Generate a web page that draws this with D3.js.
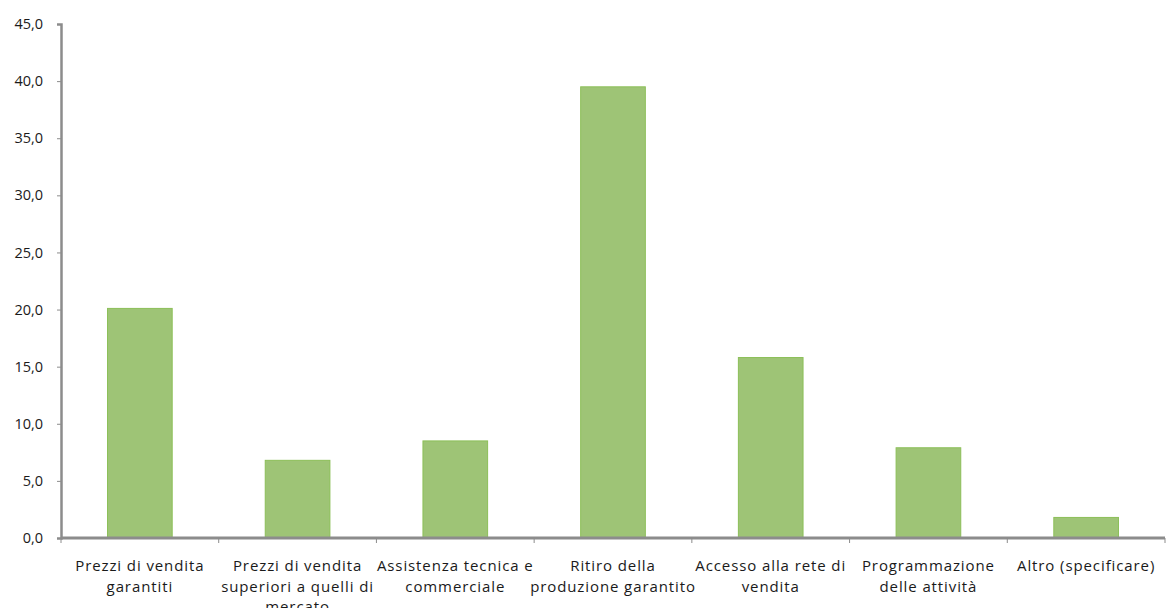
<!DOCTYPE html>
<html><head><meta charset="utf-8">
<script src="https://cdn.jsdelivr.net/npm/d3@7"></script>
<style>body{margin:0;background:#fff;} text{font-family:"Open Sans", Roboto, sans-serif;}</style>
</head><body><svg id="c" width="1168" height="608"></svg>
<script>
const categories = ["Prezzi di vendita garantiti","Prezzi di vendita superiori a quelli di mercato","Assistenza tecnica e commerciale","Ritiro della produzione garantito","Accesso alla rete di vendita","Programmazione delle attività","Altro (specificare)"];
const categoryLines = [["Prezzi di vendita","garantiti"],["Prezzi di vendita","superiori a quelli di","mercato"],["Assistenza tecnica e","commerciale"],["Ritiro della","produzione garantito"],["Accesso alla rete di","vendita"],["Programmazione","delle attività"],["Altro (specificare)"]];
const values = [20.1, 6.8, 8.5, 39.5, 15.8, 7.9, 1.8];
const yTicks = [0,5,10,15,20,25,30,35,40,45];

const svg = d3.select("#c");
const x0 = 61, x1 = 1165, yTop = 24, yBot = 538;
const x = d3.scaleBand().domain(categories).range([x0, x1]).paddingInner(0).paddingOuter(0);
const y = d3.scaleLinear().domain([0,45]).range([yBot, yTop]);
const fmt = d => d3.format(".1f")(d).replace(".", ",");

const bw = x.bandwidth()*0.41;
svg.append("g").selectAll("rect").data(values).join("rect")
  .attr("x",(d,i)=>x(categories[i])+x.bandwidth()/2-bw/2)
  .attr("y",d=>y(d)).attr("width",bw).attr("height",d=>yBot-y(d))
  .attr("fill","#9ec476").attr("stroke","#8cbf58").attr("stroke-width",1);

// y axis
const ya = svg.append("g").attr("transform",`translate(${x0},0)`)
  .call(d3.axisLeft(y).tickValues(yTicks).tickFormat(fmt).tickSize(4).tickPadding(14));
ya.select(".domain").attr("stroke","#8c8c8c").attr("stroke-width",2.5);
ya.selectAll(".tick line").attr("stroke","#8c8c8c").attr("stroke-width",1);
ya.selectAll("text").attr("font-size",14.5).attr("fill","#1a1a1a");

// x axis
const xa = svg.append("g").attr("transform",`translate(0,${yBot})`);
xa.append("line").attr("x1",x0).attr("x2",x1).attr("y1",0).attr("y2",0).attr("stroke","#8c8c8c").attr("stroke-width",3);
const bounds = categories.map(c=>x(c)).concat([x1]);
xa.selectAll("line.t").data(bounds).join("line").attr("class","t")
  .attr("x1",d=>d).attr("x2",d=>d).attr("y1",0).attr("y2",5).attr("stroke","#8c8c8c").attr("stroke-width",1);

categories.forEach((c,i)=>{
  const cx = x(c)+x.bandwidth()/2;
  const t = xa.append("text").attr("text-anchor","middle").attr("font-size",15).attr("letter-spacing","0.9px").attr("fill","#1a1a1a")
    .attr("x",cx).attr("y",33);
  categoryLines[i].forEach((l,j)=>t.append("tspan").attr("x",cx).attr("dy",j?20.5:0).text(l));
});
</script></body></html>
